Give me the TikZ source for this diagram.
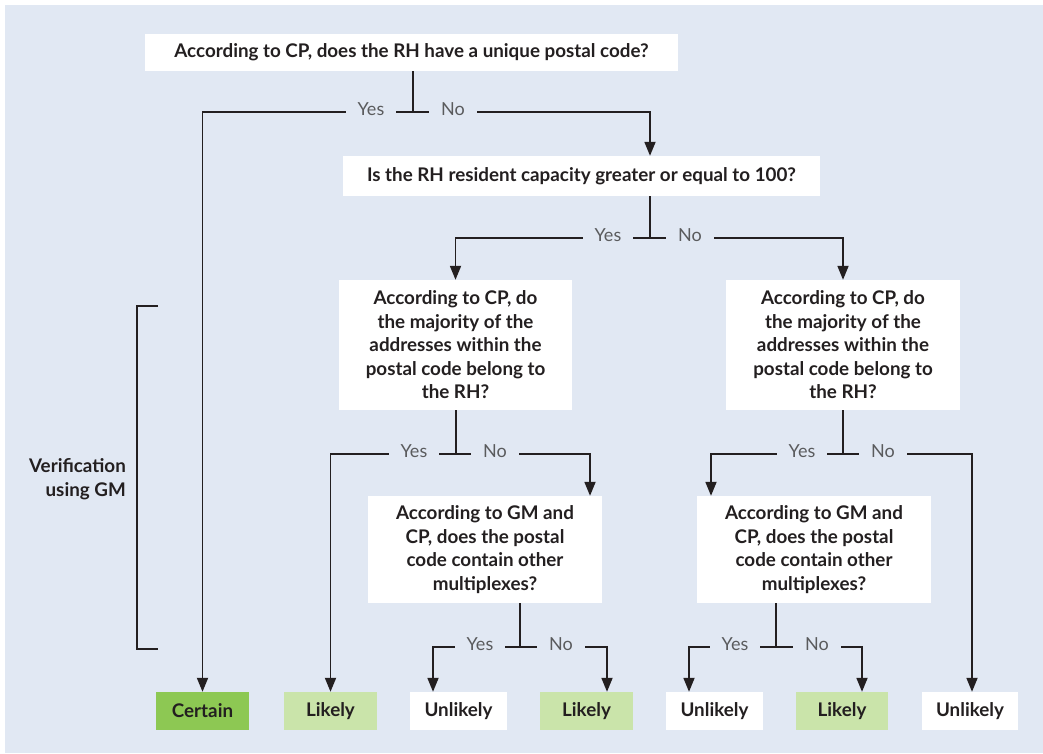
\documentclass[tikz,border=0pt]{standalone}
\usepackage{fontspec}
\setmainfont{Lato}
\usetikzlibrary{arrows.meta}
\definecolor{bg}{HTML}{E1E8F3}
\definecolor{dgreen}{HTML}{8DC853}
\definecolor{lgreen}{HTML}{CAE4AA}
\definecolor{ink}{HTML}{231F20}
\definecolor{lab}{HTML}{5A5B5D}
\begin{document}
\begin{tikzpicture}[x=1pt,y=-1pt,
  qbox/.style={fill=white, inner sep=0pt, text=ink, align=center,
    font=\bfseries\fontsize{18.8}{23.5}\selectfont},
  res/.style={qbox, minimum height=38pt},
  lbl/.style={text=lab, inner xsep=12pt, inner ysep=0pt, text height=1.45ex, text depth=0pt,
    font=\fontsize{18}{20}\selectfont},
  ln/.style={draw=ink, line width=1.8pt},
  arr/.style={ln, -{Triangle[width=11pt,length=14pt]}},
]
\useasboundingbox (0,0) rectangle (1043,753);
\fill[white] (0,0) rectangle (1043,753);
\fill[bg] (5,5) rectangle (1043,753);

% question boxes
\node[qbox, minimum width=533pt, minimum height=37pt] (q1) at (411.5,52.5)
  {According to CP, does the RH have a unique postal code?};
\node[qbox, minimum width=477pt, minimum height=40pt] (q2) at (581.5,176)
  {Is the RH resident capacity greater or equal to 100?};
\node[qbox, minimum width=233pt, minimum height=130pt] (q3) at (455.5,345)
  {According to CP, do\\the majority of the\\addresses within the\\postal code belong to\\the RH?};
\node[qbox, minimum width=234pt, minimum height=130pt] (q4) at (843,345)
  {According to CP, do\\the majority of the\\addresses within the\\postal code belong to\\the RH?};
\node[qbox, minimum width=234pt, minimum height=107pt] (q5) at (485,549.5)
  {According to GM and\\CP, does the postal\\code contain other\\multiplexes?};
\node[qbox, minimum width=234pt, minimum height=107pt] (q6) at (814,549.5)
  {According to GM and\\CP, does the postal\\code contain other\\multiplexes?};

% result boxes
\node[res, fill=dgreen, minimum width=93pt] (r1) at (202.5,711) {Certain};
\node[res, fill=lgreen, minimum width=93pt] (r2) at (330.5,711) {Likely};
\node[res, minimum width=97pt] (r3) at (458.5,711) {Unlikely};
\node[res, fill=lgreen, minimum width=93pt] (r4) at (586.5,711) {Likely};
\node[res, minimum width=97pt] (r5) at (714.5,711) {Unlikely};
\node[res, fill=lgreen, minimum width=92pt] (r6) at (842,711) {Likely};
\node[res, minimum width=96pt] (r7) at (970,711) {Unlikely};

% labels
\node[lbl] (y1) at (371,112) {Yes};  \node[lbl] (n1) at (453,112) {No};
\node[lbl] (y2) at (608,238) {Yes};  \node[lbl] (n2) at (690,238) {No};
\node[lbl] (y3) at (414,454) {Yes};  \node[lbl] (n3) at (495,454) {No};
\node[lbl] (y4) at (802,454) {Yes};  \node[lbl] (n4) at (883,454) {No};
\node[lbl] (y5) at (480,647) {Yes};  \node[lbl] (n5) at (561,647) {No};
\node[lbl] (y6) at (735,647) {Yes};  \node[lbl] (n6) at (817,647) {No};

% stems and bars
\draw[ln] (y1.east) -- (n1.west);
\draw[ln] ([xshift=1.5pt]q1.south) -- ([xshift=1.5pt]q1.south |- y1.east);
\draw[ln] (y2.east) -- (n2.west);
\draw[ln] ([xshift=68.5pt]q2.south) -- ([xshift=68.5pt]q2.south |- y2.east);
\draw[ln] (y3.east) -- (n3.west);
\draw[ln] ([xshift=0.5pt]q3.south) -- ([xshift=0.5pt]q3.south |- y3.east);
\draw[ln] (y4.east) -- (n4.west);
\draw[ln] (q4.south) -- (q4.south |- y4.east);
\draw[ln] (y5.east) -- (n5.west);
\draw[ln] ([xshift=35pt]q5.south) -- ([xshift=35pt]q5.south |- y5.east);
\draw[ln] (y6.east) -- (n6.west);
\draw[ln] ([xshift=-38pt]q6.south) -- ([xshift=-38pt]q6.south |- y6.east);

% arrows
\draw[arr] (y1.west) -| (r1.north);
\draw[arr] (n1.east) -| ([xshift=68.5pt]q2.north);
\draw[arr] (y2.west) -| (q3.north);
\draw[arr] (n2.east) -| (q4.north);
\draw[arr] (y3.west) -| (r2.north);
\draw[arr] (n3.east) -| ([xshift=105pt]q5.north);
\draw[arr] (y4.west) -| ([xshift=-103pt]q6.north);
\draw[arr] (n4.east) -| ([xshift=2pt]r7.north);
\draw[arr] (y5.west) -| ([xshift=-25.5pt]r3.north);
\draw[arr] (n5.east) -| ([xshift=20.5pt]r4.north);
\draw[arr] (y6.west) -| ([xshift=-25.5pt]r5.north);
\draw[arr] (n6.east) -| ([xshift=20pt]r6.north);

% bracket
\draw[ln, line width=1.6pt] (158,306) -- (137,306) -- (137,649) -- (158,649);
\node[qbox, fill=none, align=right, anchor=east] (ver) at (126,479)
  {Verification\\using GM};
\end{tikzpicture}
\end{document}
